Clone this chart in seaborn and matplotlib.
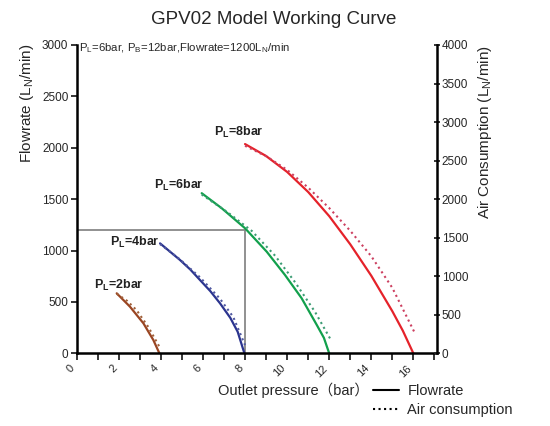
import numpy as np
import pandas as pd
import matplotlib
matplotlib.use("Agg")
import matplotlib.pyplot as plt
from matplotlib.lines import Line2D
import seaborn as sns

# Flowrate curves (left axis)
p2_x = [1.90, 2.53, 3.17, 3.64, 3.93]
p2_flow = [584, 454, 292, 130, 0]
p4_x = [3.96, 4.43, 4.91, 5.40, 5.86, 6.35, 6.81, 7.30, 7.65, 7.97]
p4_flow = [1070, 990, 908, 815, 713, 605, 487, 345, 210, 0]
p6_x = [5.94, 6.89, 8.00, 9.03, 9.90, 10.69, 11.41, 11.75, 12.00]
p6_flow = [1558, 1412, 1217, 989, 762, 536, 276, 150, 0]
p8_x = [8.0, 9.0, 10.0, 11.0, 12.0, 13.0, 14.0, 15.0, 15.5, 16.0]
p8_flow = [2036, 1920, 1765, 1570, 1335, 1061, 755, 410, 220, 0]

# Air consumption curves (right axis)
p2_air_x = [1.90, 2.40, 2.85, 3.40, 3.93]
p2_air = [773, 680, 558, 343, 85]
p4_air_x = [3.96, 4.90, 5.86, 6.81, 7.44, 8.00]
p4_air = [1417, 1220, 986, 708, 471, 107]
p6_air_x = [5.94, 7.20, 8.32, 9.43, 10.38, 11.33, 12.04]
p6_air = [2060, 1824, 1588, 1266, 922, 536, 193]
p8_air_x = [8.0, 9.0, 10.0, 11.0, 12.0, 13.0, 14.0, 15.0, 16.08]
p8_air = [2692, 2558, 2380, 2150, 1885, 1590, 1260, 850, 258]

curve_names = ["PL=2bar", "PL=4bar", "PL=6bar", "PL=8bar"]
curve_labels = ["P$_\\mathregular{L}$=2bar", "P$_\\mathregular{L}$=4bar",
                "P$_\\mathregular{L}$=6bar", "P$_\\mathregular{L}$=8bar"]
label_x = [2.01, 2.75, 4.86, 7.69]
label_y = [656, 1074, 1630, 2146]

ref_flow = 1200
ref_pressure = 8.0

x_ticks = list(range(0, 18))
x_tick_labels = [str(t) if t % 2 == 0 else "" for t in x_ticks]
left_ticks = [0, 500, 1000, 1500, 2000, 2500, 3000]
right_ticks = [0, 500, 1000, 1500, 2000, 2500, 3000, 3500, 4000]

solid_colors = ["#9a4522", "#2b348f", "#12a04c", "#e5222a"]
dot_colors = ["#a0603a", "#5058a0", "#3c9c74", "#cc4060"]

flow_df = pd.concat([
    pd.DataFrame({"x": xs, "y": ys, "curve": n})
    for xs, ys, n in zip([p2_x, p4_x, p6_x, p8_x],
                         [p2_flow, p4_flow, p6_flow, p8_flow], curve_names)
])
air_df = pd.concat([
    pd.DataFrame({"x": xs, "y": ys, "curve": n})
    for xs, ys, n in zip([p2_air_x, p4_air_x, p6_air_x, p8_air_x],
                         [p2_air, p4_air, p6_air, p8_air], curve_names)
])

sns.set_style("ticks")
plt.rcParams["font.family"] = ["Liberation Sans", "DejaVu Sans"]
plt.rcParams["mathtext.fontset"] = "custom"
plt.rcParams["mathtext.rm"] = "Liberation Sans"

fig = plt.figure(figsize=(5.5, 4.26), dpi=100)
ax = fig.add_axes([0.1395, 0.1706, 0.6545, 0.7238])
ax2 = ax.twinx()

pal = dict(zip(curve_names, solid_colors))
pal_dot = dict(zip(curve_names, dot_colors))

sns.lineplot(data=flow_df, x="x", y="y", hue="curve", palette=pal, sort=False,
             estimator=None, lw=1.6, legend=False, ax=ax)
sns.lineplot(data=air_df, x="x", y="y", hue="curve", palette=pal_dot, sort=False,
             estimator=None, lw=1.5, ls=":", legend=False, ax=ax2)

# reference lines for the working point
ax.plot([0, ref_pressure], [ref_flow, ref_flow], color="#888888", lw=1.3, zorder=1)
ax.plot([ref_pressure, ref_pressure], [0, ref_flow], color="#888888", lw=1.3, zorder=1)

for lx, ly, lab in zip(label_x, label_y, curve_labels):
    ax.text(lx, ly, lab, ha="center", va="center", fontsize=9, fontweight="bold",
            family=["Liberation Sans Narrow", "Liberation Sans"], color="#222222")

ax.set_xlim(0, 17.11)
ax.set_ylim(0, 3000)
ax2.set_ylim(0, 4000)

ax.set_xticks(x_ticks)
ax.set_xticklabels(x_tick_labels, rotation=45, ha="right", fontsize=8)
ax.set_yticks(left_ticks)
ax.set_yticklabels([str(t) for t in left_ticks], fontsize=8.5)
ax2.set_yticks(right_ticks)
ax2.set_yticklabels([str(t) for t in right_ticks], fontsize=8.5)

ax.tick_params(axis="x", length=5, width=1.3, pad=2)
ax.tick_params(axis="y", length=4, width=1.3, pad=2)
ax2.tick_params(axis="y", direction="inout", length=5, width=1.3, pad=1)

for a in (ax, ax2):
    for s in a.spines.values():
        s.set_linewidth(1.8)
        s.set_color("black")
ax.spines["top"].set_visible(False)
ax.spines["right"].set_visible(False)
ax2.spines["top"].set_visible(False)
ax2.spines["left"].set_visible(False)
ax2.spines["bottom"].set_visible(False)

ax.set_xlabel("Outlet pressure（bar）", fontsize=10.5,
              family=["Liberation Sans", "Noto Sans CJK SC"])
ax.xaxis.set_label_coords(0.601, -0.096)
ax.set_ylabel("Flowrate (L$_\\mathregular{N}$/min)", fontsize=11)
ax.yaxis.set_label_coords(-0.113, 0.812)
ax2.set_ylabel("Air Consumption (L$_\\mathregular{N}$/min)", fontsize=11)
ax2.yaxis.set_label_coords(1.109, 0.718)

fig.text(274 / 550, 1 - 20 / 426, "GPV02 Model Working Curve", fontsize=13.5,
         ha="center", va="center")
fig.text(79 / 550, 1 - 41 / 426,
         "P$_\\mathregular{L}$=6bar, P$_\\mathregular{B}$=12bar,Flowrate=1200L$_\\mathregular{N}$/min",
         fontsize=8.2, ha="left", va="top",
         family=["Liberation Sans Narrow", "Liberation Sans"])

handles = [Line2D([], [], color="black", lw=1.5),
           Line2D([], [], color="black", lw=1.5, ls=":")]
fig.legend(handles, ["Flowrate", "Air consumption"], loc="center left",
           bbox_to_anchor=(373 / 550, 1 - 400.5 / 426), frameon=False,
           fontsize=10.5, handlelength=1.8, handletextpad=0.55,
           labelspacing=0.35, borderpad=0, borderaxespad=0)

fig.savefig("out.png", dpi=100)
